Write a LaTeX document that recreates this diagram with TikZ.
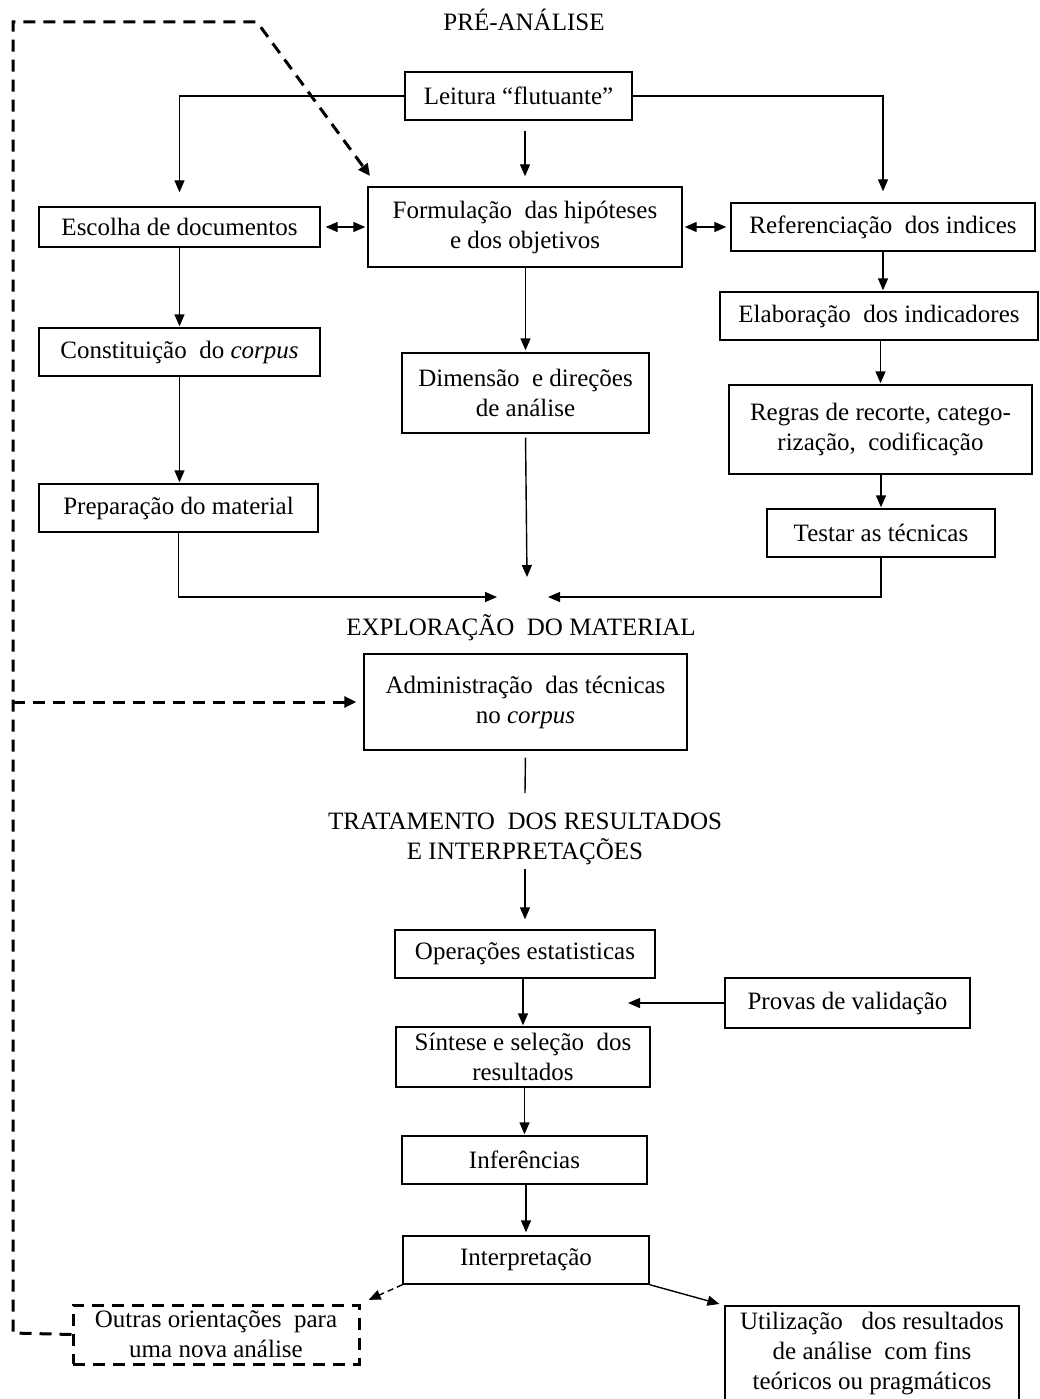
\documentclass[tikz,border=0pt]{standalone}
\usepackage{fontspec}
\setmainfont{Liberation Serif}
\usetikzlibrary{arrows.meta}
\begin{document}
\begin{tikzpicture}[x=1pt,y=-1pt,
  every node/.style={font=\fontsize{25}{30}\selectfont},
  box/.style={draw, line width=1.4pt, inner sep=0pt, align=center},
  dbox/.style={draw, line width=3pt, dash pattern=on 12pt off 8pt, inner sep=0pt, align=center},
  title/.style={inner sep=0pt, align=center},
  conn/.style={line width=1.4pt, -{Triangle[length=12pt,width=10pt]}},
  plain/.style={line width=1.4pt},
  dconn/.style={line width=3pt, dash pattern=on 12pt off 8pt, -{Triangle[length=12pt,width=11pt]}},
  tconn/.style={line width=1.4pt, dash pattern=on 6pt off 4pt, -{Triangle[length=12pt,width=10pt]}}
]
\useasboundingbox (0,0) rectangle (1039,1399);
\clip (0,0) rectangle (1039,1399);
\fill[white] (0,0) rectangle (1039,1399);

% titles
\node[title] (pre) at (524,20) {PRÉ-ANÁLISE};
\node[title] (expl) at (521,628) {EXPLORAÇÃO\ \ DO MATERIAL};
\node[title] (trat) at (525,839) {TRATAMENTO\ \ DOS RESULTADOS\\E INTERPRETAÇÕES};

% boxes
\node[box, minimum width=227, minimum height=48] (leit) at (518.5,96) {Leitura “flutuante”};
\node[box, minimum width=314, minimum height=80] (form) at (525,227) {Formulação\ \ das hipóteses\\e dos objetivos};
\node[box, minimum width=281, minimum height=40] (esc) at (179.5,227) {Escolha de documentos};
\node[box, minimum width=304, minimum height=48] (ref) at (883,227) {Referenciação\ \ dos indices};
\node[box, minimum width=281, minimum height=48] (const) at (179.5,352) {Constituição\ \ do \textit{corpus}};
\node[box, minimum width=318, minimum height=48] (elab) at (879,316) {Elaboração\ \ dos indicadores};
\node[box, minimum width=247, minimum height=80] (dim) at (525.5,393) {Dimensão\ \ e direções\\de análise};
\node[box, minimum width=303, minimum height=89] (regr) at (880.5,429.5) {Regras de recorte, catego-\\rização,\ \ codificação};
\node[box, minimum width=279, minimum height=48] (prep) at (178.5,508) {Preparação do material};
\node[box, minimum width=228, minimum height=48] (test) at (881,533) {Testar as técnicas};
\node[box, minimum width=323, minimum height=96] (adm) at (525.5,702) {Administração\ \ das técnicas\\no \textit{corpus}};
\node[box, minimum width=260, minimum height=48] (oper) at (525,954) {Operações estatisticas};
\node[box, minimum width=245, minimum height=50] (prov) at (847.5,1003) {Provas de validação};
\node[box, minimum width=254, minimum height=60] (sint) at (523,1057) {Síntese e seleção\ \ dos\\resultados};
\node[box, minimum width=245, minimum height=48] (infe) at (524.5,1160) {Inferências};
\node[box, minimum width=246, minimum height=48] (intp) at (526,1260) {Interpretação};
\node[dbox, minimum width=286, minimum height=59] (outr) at (216,1334.5) {Outras orientações\ \ para\\uma nova análise};
\node[box, minimum width=294, minimum height=96] (util) at (872,1354) {Utilização\ \ \ dos resultados\\de análise\ \ com fins\\teóricos ou pragmáticos};

% free ends
\coordinate (j1) at (497,597);
\coordinate (j2) at (548,597);
\coordinate (j3) at (527,577);
\coordinate (admend) at (525,793);
\coordinate (provend) at (628,1003);
\coordinate (formtip) at (370,176);
\coordinate (lpA) at (13,1333);
\coordinate (lpB) at (13,22);
\coordinate (lpC) at (257,22);
\coordinate (lpM) at (13,702);

% connectors top
\draw[conn, shorten >=14pt] (leit.west) -| (esc.north);
\draw[conn, shorten <=10pt, shorten >=10pt] (leit.south -| form.north) -- (form.north);
\draw[conn, shorten >=11pt] (leit.east) -| (ref.north);
\draw[line width=1.4pt, {Triangle[length=12pt,width=10pt]}-{Triangle[length=12pt,width=10pt]}, shorten <=5pt, shorten >=2pt] (esc.east) -- (form.west);
\draw[line width=1.4pt, {Triangle[length=12pt,width=10pt]}-{Triangle[length=12pt,width=10pt]}, shorten <=2pt, shorten >=4pt] (form.east) -- (ref.west);
\draw[conn, shorten >=1pt] (esc.south) -- (const.north);
\draw[conn, shorten >=1pt] (const.south) -- (prep.north -| const.south);
\draw[conn] (prep.south) |- (j1);
\draw[conn, shorten >=2pt] (form.south -| dim.north) -- (dim.north);
\draw[conn, shorten <=4pt] (dim.south) -- (j3);
\draw[conn, shorten >=1pt] (ref.south) -- (elab.north -| ref.south);
\draw[conn, shorten >=1pt] (elab.south -| regr.north) -- (regr.north);
\draw[conn, shorten >=1pt] (regr.south -| test.north) -- (test.north);
\draw[conn] (test.south) |- (j2);

% middle
\draw[plain, shorten <=7pt] (adm.south) -- (admend);
\draw[conn, shorten <=4pt, shorten >=10pt] (trat.south) -- (oper.north);
\draw[conn, shorten >=1pt] (oper.south -| sint.north) -- (sint.north);
\draw[conn] (prov.west) -- (provend);
\draw[conn, shorten >=1pt] (sint.south -| infe.north) -- (infe.north);
\draw[conn, shorten >=3pt] (infe.south -| intp.north) -- (intp.north);
\draw[conn, shorten >=5pt] (intp.south east) -- (util.north west);
\draw[tconn, shorten >=9pt] (intp.south west) -- (outr.north east);

% dashed feedback loop
\draw[dconn] (outr.west) -- (lpA) -- (lpB) -- (lpC) -- (formtip);
\draw[dconn, shorten >=7pt] (lpM) -- (adm.west);
\end{tikzpicture}
\end{document}
